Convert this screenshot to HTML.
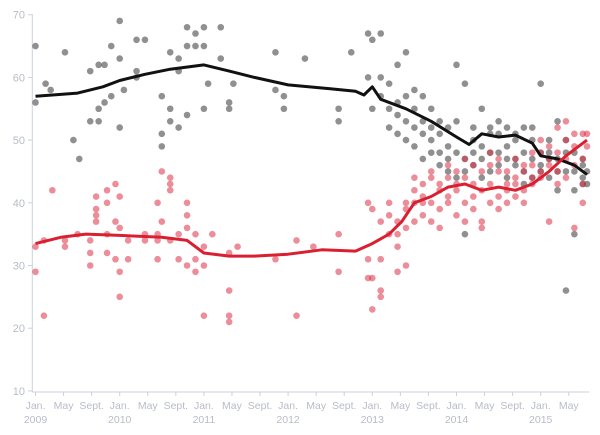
<!DOCTYPE html>
<html><head><meta charset="utf-8"><style>
body{margin:0;background:#fff;}
svg{display:block;font-family:"Liberation Sans",sans-serif;}
</style></head><body>
<svg id="chart" width="600" height="435" viewBox="0 0 600 435"></svg>
<script>
const yTicks=[10,20,30,40,50,60,70];
const xTickLabels=["Jan.","May","Sept.","Jan.","May","Sept.","Jan.","May","Sept.","Jan.","May","Sept.","Jan.","May","Sept.","Jan.","May","Sept.","Jan.","May"];
const yearLabels=["2009","2010","2011","2012","2013","2014","2015"];
const blackDates=[2009.0,2009.12,2009.18,2009.35,2009.45,2009.52,2009.65,2009.75,2009.82,2009.9,2010.0,2010.05,2010.2,2010.3,2010.5,2010.6,2010.7,2010.8,2010.9,2011.0,2011.05,2011.2,2011.3,2011.35,2011.85,2011.95,2012.2,2012.6,2012.75,2012.95,2013.0,2013.1,2013.2,2013.3,2013.4,2013.5,2013.6,2013.7,2013.8,2013.9,2014.0,2014.1,2014.2,2014.3,2014.4,2014.5,2014.6,2014.7,2014.8,2014.9,2015.0,2015.1,2015.2,2015.3,2015.4,2015.5,2015.55];
const blackValues=[[65,56],[59],[58],[64],[50],[47],[61,53],[62,55,53],[62,56],[65,57],[52,63,69],[58],[66,61,60],[66],[51,49,57],[53,55,64],[61,63,52],[65,68,54],[65,67],[55,65,68],[59],[68,63],[56,55],[59],[64,58],[57,55],[63],[53,55],[64],[67,60],[55,66],[67,60,57],[59,55,52],[56,54,62,51],[64,57,53,50],[55,52,58,49],[57,53,51,47],[50,52,55,48],[51,48,46,53],[47,45,52,49],[62,48,53,44],[59,45,47,35],[50,46,52,48],[47,49,55,44],[45,48,51,52],[53,48,46,51],[49,47,44,52],[51,46,50,47],[52,45,48,43],[47,50,44,52],[59,46,48,45],[48,44,47,50],[53,47,45,42],[26,50,48,45],[35,45,42,48],[44,47,43,46],[43,45]];
const redDates=[2009.0,2009.1,2009.2,2009.35,2009.5,2009.65,2009.72,2009.85,2009.95,2010.0,2010.1,2010.3,2010.45,2010.5,2010.6,2010.7,2010.8,2010.9,2011.0,2011.1,2011.3,2011.4,2011.85,2012.1,2012.3,2012.6,2012.95,2013.0,2013.1,2013.2,2013.3,2013.4,2013.5,2013.6,2013.7,2013.8,2013.9,2014.0,2014.1,2014.2,2014.3,2014.4,2014.5,2014.6,2014.7,2014.8,2014.9,2015.0,2015.1,2015.2,2015.3,2015.4,2015.5,2015.55];
const redValues=[[33,29],[22,34],[42],[34,33],[35],[30,32,34],[38,39,37,41],[32,35,40,42],[43,31,37],[25,29,41,36],[31,34],[34,35],[35,40,31,34],[45,37],[42,44,43,34],[31,35],[38,40,36,30],[31,29,35],[30,33,22],[35],[22,21,26,32],[33],[31],[34,22],[33],[35,29],[31,40,28],[28,23,39],[25,26,37,31],[35,40,38],[29,35,37,33],[30,36,40,39],[42,44,40,37],[43,38,41,40],[44,40,37,45],[42,39,36,43],[46,40,41,44],[38,45,42,43],[40,44,47,37],[41,46,39,43],[45,37,42,36],[43,48,40,46],[41,45,39,47],[45,42,40,43],[47,43,41,44],[40,45,42,46],[46,43,48,44],[48,45,44,50],[46,47,37,49],[43,52,48,45],[53,47,50,44],[36,51,49,46],[51,47,43,40],[49,51]];
const blackTrendDates=[2009,2009.5,2009.8,2010,2010.3,2010.6,2011,2011.3,2011.6,2012,2012.5,2012.8,2012.9,2013,2013.1,2013.4,2013.7,2014,2014.15,2014.3,2014.5,2014.7,2014.9,2015,2015.2,2015.4,2015.55];
const blackTrendValues=[57,57.5,58.5,59.5,60.5,61.3,62,61,60,58.8,58.2,57.8,57.2,58.5,56.5,55,53,50.5,49.3,51,50.5,50.8,49.5,47.5,47,46,44.5];
const redTrendDates=[2009,2009.3,2009.6,2010,2010.5,2010.8,2011,2011.3,2011.6,2012,2012.4,2012.8,2013,2013.2,2013.35,2013.5,2013.7,2013.9,2014.1,2014.3,2014.5,2014.7,2014.9,2015.1,2015.3,2015.55];
const redTrendValues=[33.5,34.5,35,34.8,34.5,34,32,31.5,31.5,31.8,32.5,32.3,33.5,35,37,40,41,42.5,43,42,42.5,42,43,45,47.5,50];

const NS="http://www.w3.org/2000/svg";
const svg=document.getElementById('chart');
const X=t=>35.5+(t-2009)*84.2;
const Y=v=>14.7+(70-v)*6.27;
function mk(tag,attrs,parent){const e=document.createElementNS(NS,tag);for(const k in attrs)e.setAttribute(k,attrs[k]);(parent||svg).appendChild(e);return e;}

const axis=mk('g',{});


const yl=mk('line',{x1:32.3,y1:14,x2:32.3,y2:392,stroke:'#ccd0dc','stroke-width':1},axis);


const xl=mk('line',{x1:32.3,y1:392,x2:589,y2:392,stroke:'#ccd0dc','stroke-width':1},axis);


yTicks.forEach(v=>{
  mk('line',{x1:28,x2:32.3,y1:Y(v),y2:Y(v),stroke:'#ccd0dc'},axis);
  const t=mk('text',{x:25,y:Y(v)+4,'text-anchor':'end','font-size':11,fill:'#b8bcc8'},axis);
  t.textContent=v;
  
  
});
xTickLabels.forEach((lab,i)=>{
  const tx=X(2009+i/3);
  mk('line',{x1:tx,x2:tx,y1:392,y2:396,stroke:'#ccd0dc'},axis);
  const t=mk('text',{x:tx,y:409,'text-anchor':'middle','font-size':10.5,fill:'#b8bcc8'},axis);
  t.textContent=lab;
  
  
});
yearLabels.forEach((lab,i)=>{
  const t=mk('text',{x:X(2009+i),y:423,'text-anchor':'middle','font-size':10.5,fill:'#b8bcc8'},axis);
  t.textContent=lab;
  
  
});

function dots(dates,vals,fill,name){
  const g=mk('g',{});
  
  
  dates.forEach((d,i)=>vals[i].forEach(v=>{
    const c=mk('circle',{cx:X(d),cy:Y(v),r:3.3,fill:fill},g);
    
    
  }));
}
dots(blackDates,blackValues,'rgba(70,70,70,0.6)','black-poll-points');
dots(redDates,redValues,'rgba(220,50,70,0.55)','red-poll-points');

function trend(dates,vals,color,name){
  const p=mk('path',{d:dates.map((d,i)=>(i?'L':'M')+X(d).toFixed(1)+','+Y(vals[i]).toFixed(1)).join(''),fill:'none',stroke:color,'stroke-width':3,'stroke-linejoin':'round'});
  
  
}
trend(blackTrendDates,blackTrendValues,'#111','black-trend-line');
trend(redTrendDates,redTrendValues,'#d91f30','red-trend-line');
</script>
</body></html>
